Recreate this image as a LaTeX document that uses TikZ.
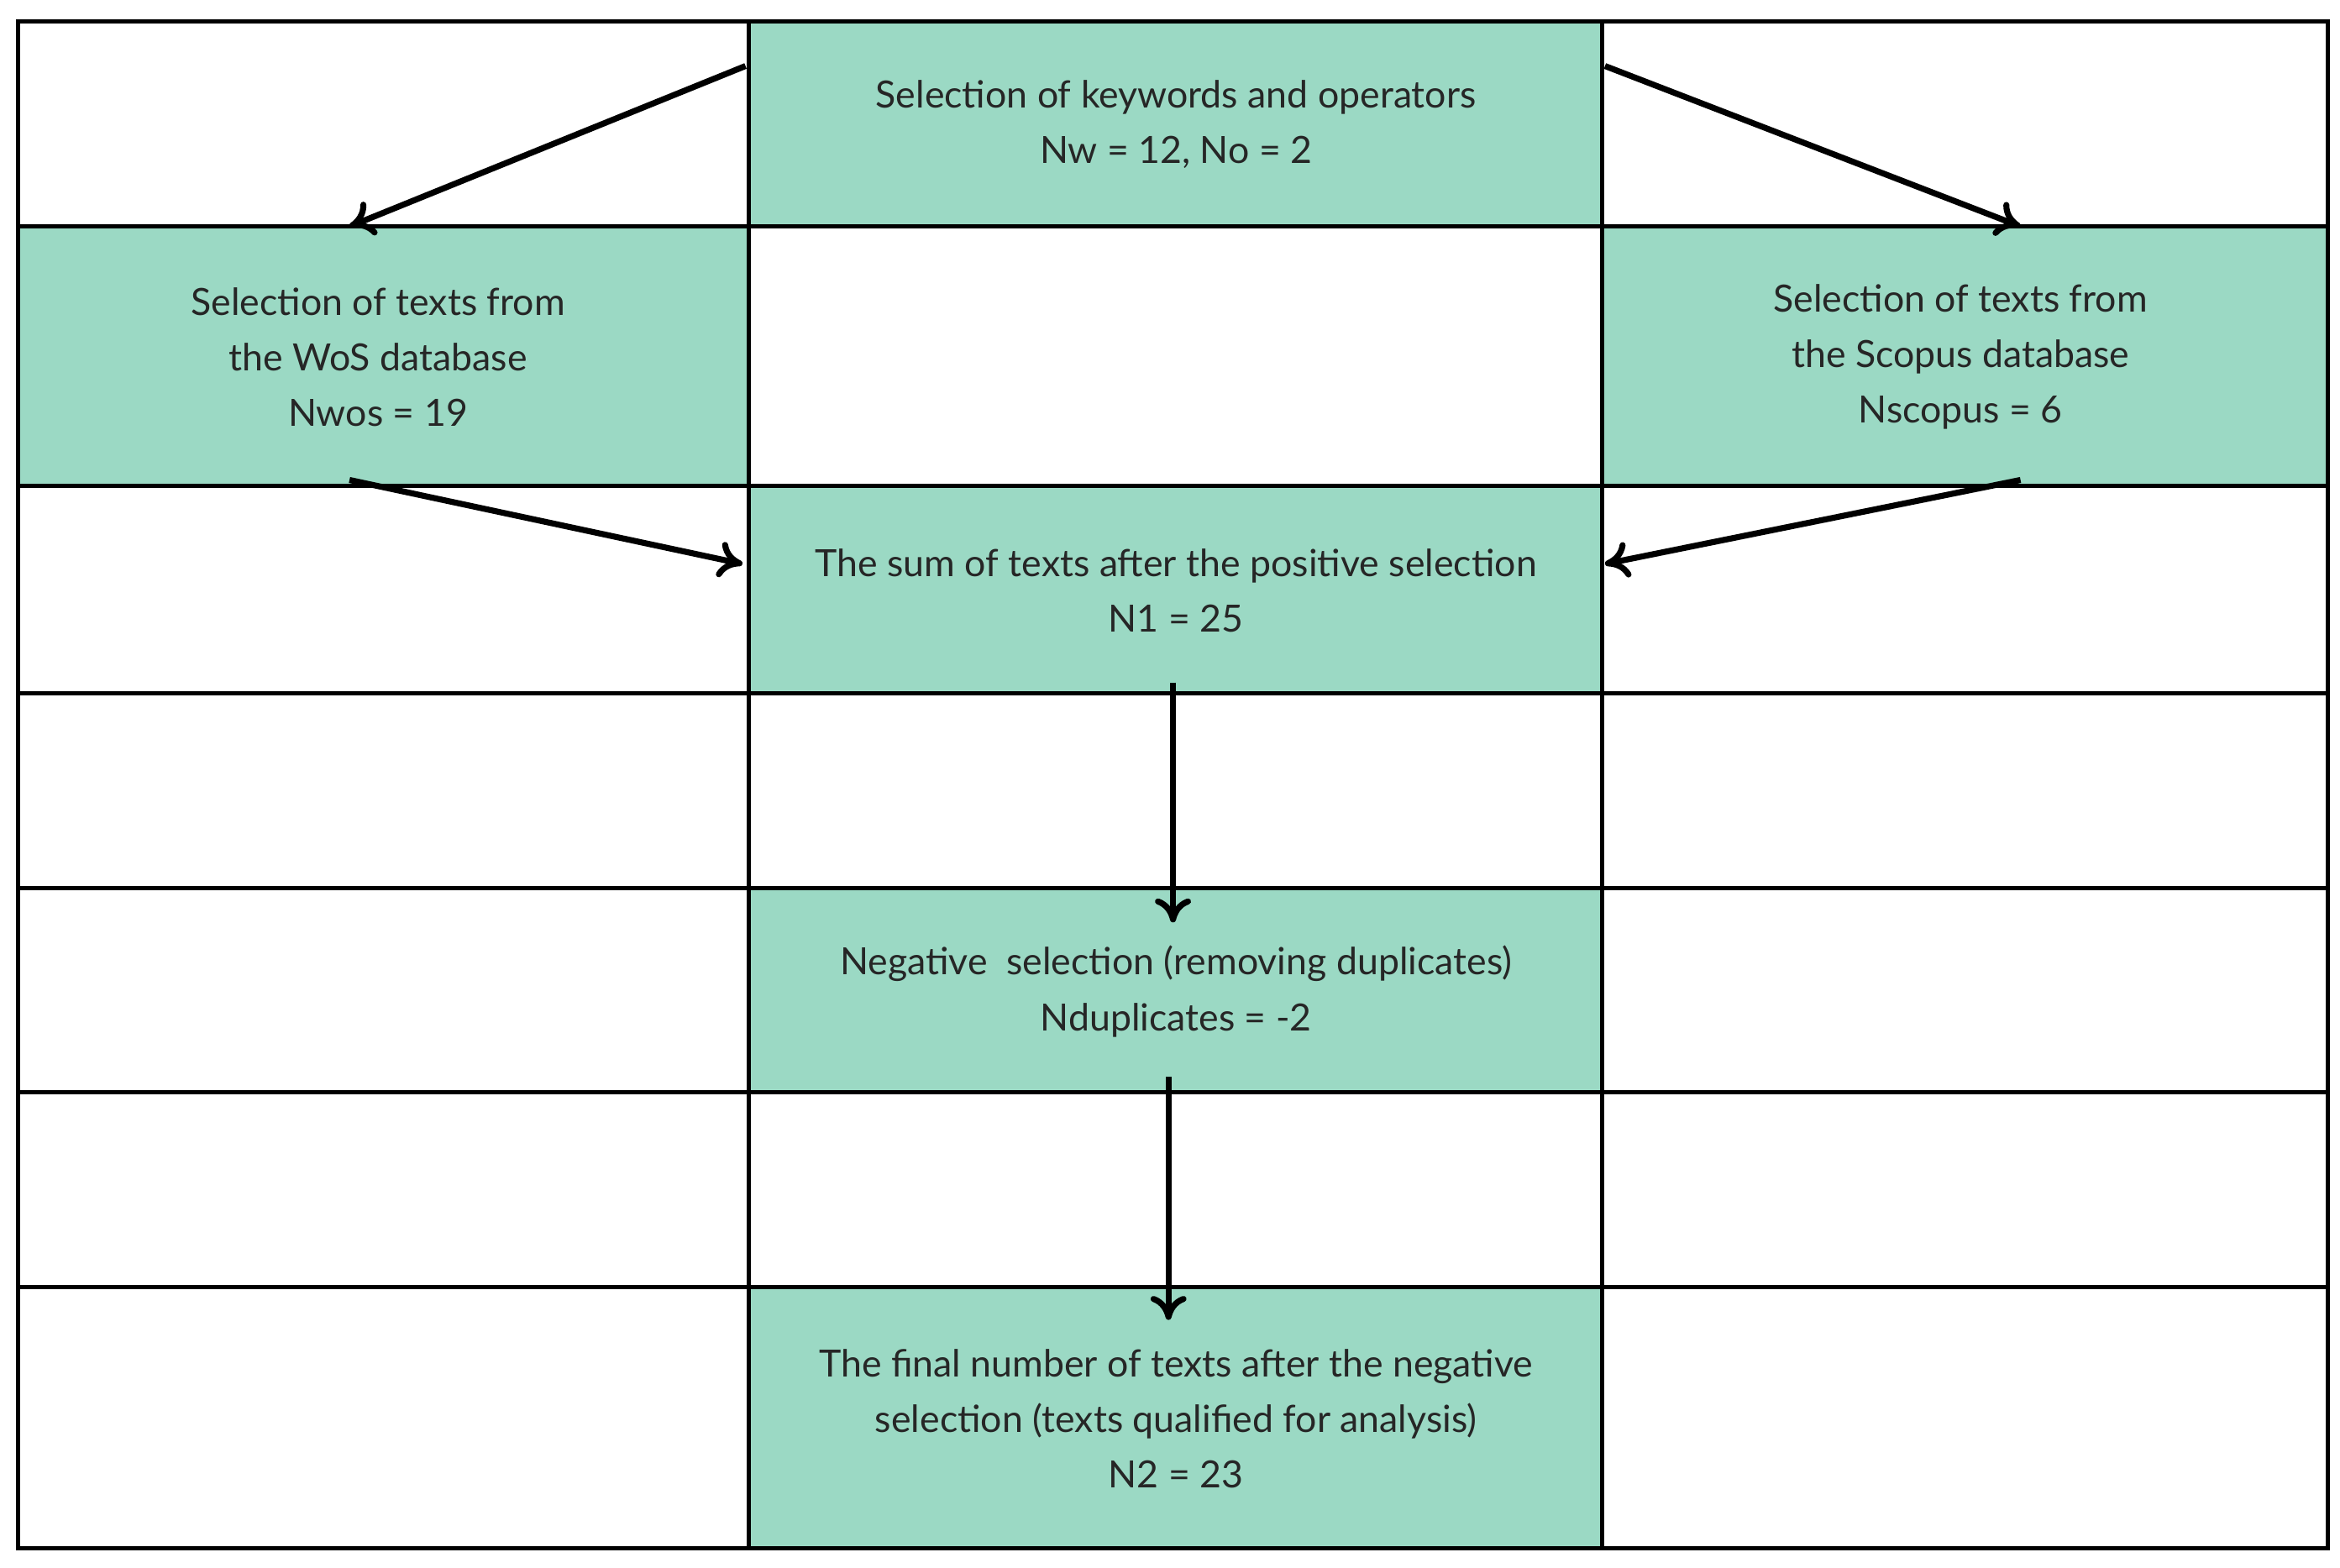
\documentclass[tikz,border=0pt]{standalone}
\usepackage{fontspec}
\setmainfont{Lato}
\usetikzlibrary{arrows.meta}
\definecolor{mint}{HTML}{9BD9C4}
\begin{document}
\begin{tikzpicture}[x=0.5pt,y=-0.5pt,
  cell/.style={fill=mint,draw=black,line width=1.4pt},
  lbl/.style={align=center,font=\fontsize{12.5}{18.5}\selectfont,text=black!85},
  arr/.style={line width=2pt,-{To[length=8pt,width=12pt,line width=2pt]}}]
\useasboundingbox (0,0) rectangle (1560,1045);
% green cells
\path[cell] (499,14) rectangle (1068,151);
\path[cell] (12,151) rectangle (499,324);
\path[cell] (1068,151) rectangle (1552,324);
\path[cell] (499,324) rectangle (1068,462);
\path[cell] (499,592) rectangle (1068,728);
\path[cell] (499,858) rectangle (1068,1032);
% grid
\draw[line width=1.4pt] (12,14) rectangle (1552,1032);
\foreach \x in {499,1068} \draw[line width=1.4pt] (\x,14) -- (\x,1032);
\foreach \y in {151,324,462,592,728,858} \draw[line width=1.4pt] (12,\y) -- (1552,\y);
% labels
\node[lbl] (k) at (784,83) {Selection of keywords and operators\\Nw = 12, No = 2};
\node[lbl] (w) at (252,238) {Selection of texts from\\the WoS database\\Nwos = 19};
\node[lbl] (s) at (1307,238) {Selection of texts from\\the Scopus database\\Nscopus = 6};
\node[lbl] (n1) at (784,394) {The sum of texts after the positive selection\\N1 = 25};
\node[lbl] (neg) at (784,661) {Negative\ \ selection (removing duplicates)\\Nduplicates = -2};
\node[lbl] (fin) at (784,946) {The final number of texts after the negative\\selection (texts qualified for analysis)\\N2 = 23};
% arrow endpoints
\coordinate (a1) at (497,44); \coordinate (b1) at (233,151);
\coordinate (a2) at (1070,44); \coordinate (b2) at (1347,151);
\coordinate (a3) at (233,320); \coordinate (b3) at (495,376);
\coordinate (a4) at (1347,320); \coordinate (b4) at (1070,376);
\coordinate (a5) at (782,455); \coordinate (b5) at (782,615);
\coordinate (a6) at (779,718); \coordinate (b6) at (779,880);
\foreach \i in {1,...,6} \draw[arr] (a\i) -- (b\i);
\end{tikzpicture}
\end{document}
